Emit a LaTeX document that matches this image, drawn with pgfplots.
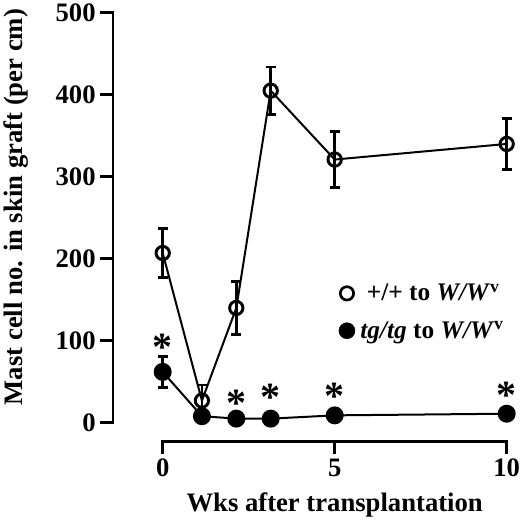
\documentclass[border=0pt]{standalone}
\usepackage{fontspec}
\setmainfont{Liberation Serif}
\usepackage{pgfplots}
\pgfplotsset{compat=1.18}

% +/+ to W/W^v (open) and tg/tg to W/W^v (filled), mean and error
\pgfplotstableread{
x     y    e
0     207  30
1.14  27   19
2.14  140  32
3.14  405  29
5     321  34
10    340  31
}\wildtype
\pgfplotstableread{
x     y    e
0     62   19
1.14  8    0
2.14  5    0
3.14  5    0
5     9    0
10    11   0
}\tgtg
\pgfplotstableread{
x     y
0     91.6
2.14  24
3.14  30.5
5     31.8
10    34
}\stars

\begin{document}
\begin{tikzpicture}
\useasboundingbox (-84.75pt,-63.2pt) rectangle (305.25pt,331.3pt);
\begin{axis}[
    at={(0,0)}, anchor=south west,
    scale only axis,
    width=303pt, height=324.8pt,
    xmin=-1.445, xmax=10.3,
    ymin=-23.17, ymax=505,
    clip=false,
    axis x line*=bottom, axis y line*=left,
    axis line style={draw=none},
    tick align=outside,
    major tick length=9.5pt,
    tick style={line width=2pt, black},
    xtick={0,5,10}, ytick={0,100,...,500},
    /pgf/number format/assume math mode=true,
    tick label style={font=\fontsize{20}{22}\selectfont\bfseries},
    xlabel={Wks after transplantation},
    ylabel={Mast cell no. in skin graft (per cm)},
    label style={font=\fontsize{20}{22}\selectfont\bfseries},
    xlabel style={at={(axis description cs:0.5487,-0.1616)}, anchor=base},
    ylabel style={at={(axis description cs:-0.2244,0.5418)}, anchor=base},
    legend style={at={(axis cs:5.0,135)}, anchor=west, draw=none, fill=none,
        font=\fontsize{19}{21}\selectfont\bfseries, row sep=10pt},
    legend cell align=left,
]
\addlegendimage{only marks, mark=o, mark size=5pt, line width=2pt, black}
\addlegendentry{\hspace{7pt}+/+ to \textit{W/W}\textsuperscript{v}}
\addlegendimage{only marks, mark=*, mark size=6pt, black}
\addlegendentry{\hspace{2pt}\textit{tg/tg} to \textit{W/W}\textsuperscript{v}}

% axis lines run only over the data range
\draw[line width=2pt, line cap=rect] (axis cs:-1.445,0) -- (axis cs:-1.445,500);
\draw[line width=2pt, line cap=rect] (axis cs:0,-23.17) -- (axis cs:10,-23.17);

\addplot[black, line width=1.5pt, mark=*, mark size=6pt,
    error bars/.cd, y dir=both, y explicit,
    error bar style={line width=2pt},
    error mark options={line width=2pt, mark size=3.75pt, rotate=90}]
    table[x=x, y=y, y error=e] {\tgtg};
\addplot[black, line width=1.5pt, mark=o, mark size=5pt,
    mark options={fill=white, line width=2.2pt},
    error bars/.cd, y dir=both, y explicit,
    error bar style={line width=2pt},
    error mark options={line width=2pt, mark size=3.75pt, rotate=90}]
    table[x=x, y=y, y error=e] {\wildtype};

\addplot[only marks, mark=text,
    text mark={\fontsize{30}{32}\selectfont\bfseries *}]
    table[x=x, y=y] {\stars};
\end{axis}
\end{tikzpicture}
\end{document}
